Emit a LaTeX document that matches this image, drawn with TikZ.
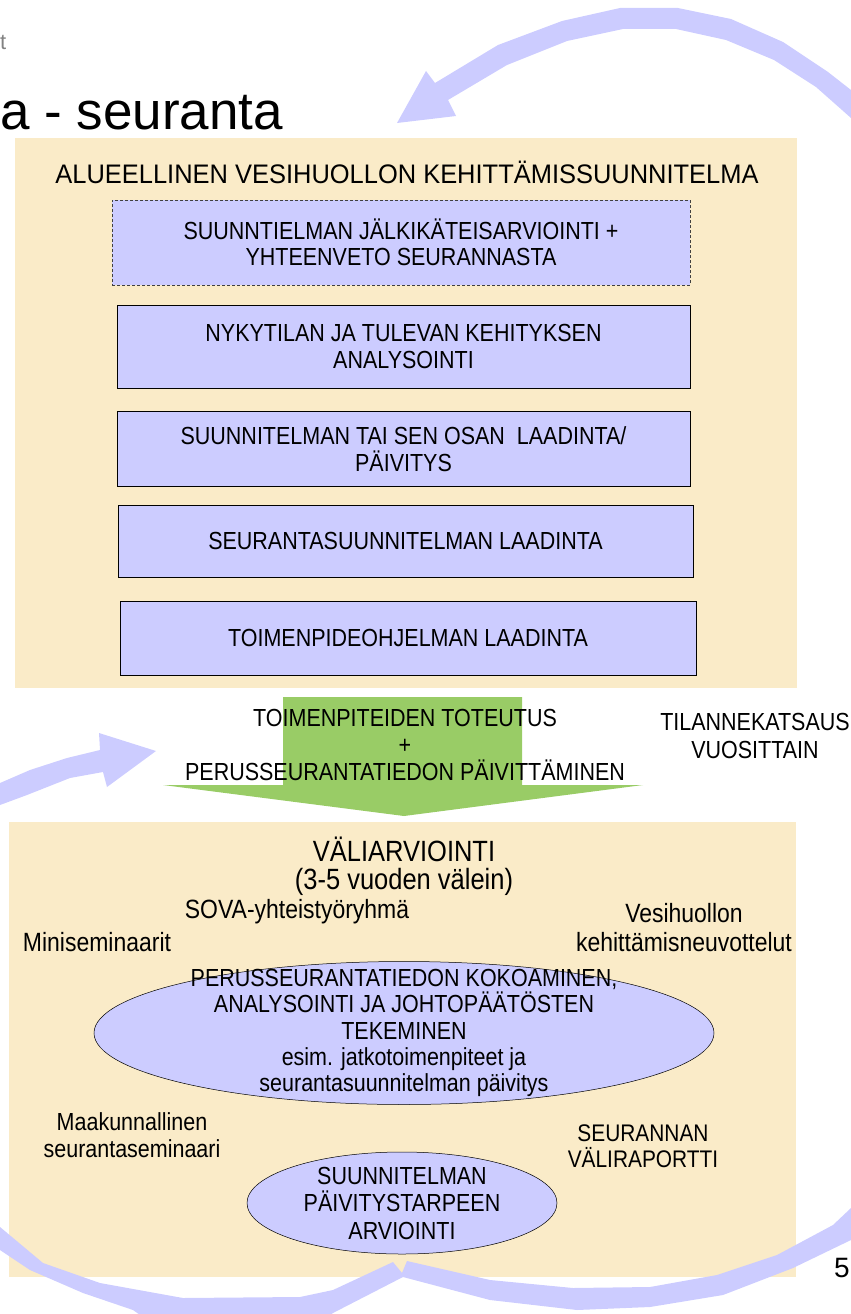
\documentclass[tikz,border=0pt]{standalone}
\usepackage{fontspec}
\setmainfont{Liberation Sans}
\newfontfamily\nf{Liberation Sans}[FakeStretch=0.87]
\newfontfamily\hf{Liberation Sans}[FakeStretch=0.95]
\usetikzlibrary{shapes.geometric}
\definecolor{beige}{RGB}{250,235,200}
\definecolor{lav}{RGB}{204,204,255}
\definecolor{grn}{RGB}{153,204,102}
\definecolor{grayt}{RGB}{130,130,130}
\newcommand\myfs[2]{\fontsize{#1}{#2}\selectfont}
\begin{document}
\begin{tikzpicture}[x=1pt,y=-1pt,
  panel/.style={fill=beige},
  boxn/.style={draw=black, line width=0.5pt, fill=lav, inner sep=0pt, align=center, font={\nf\myfs{24.7}{26.5}}},
  txt/.style={align=center, inner sep=0pt, font={\nf\myfs{24.7}{26.5}}},
  lbl/.style={align=center, inner sep=0pt, font={\nf\myfs{26.4}{29}}},
  ell/.style={ellipse, draw=black, line width=0.5pt, fill=lav, inner sep=0pt},
  band/.style={fill=lav}]
\useasboundingbox (0,0) rectangle (851,1314);
\clip (0,0) rectangle (851,1314);

% header texts
\node[anchor=base west, inner sep=0pt, text=grayt, font={\myfs{22}{26}}] (hdr) at (0,49) {t};
\node[anchor=base west, inner sep=0pt, font={\myfs{53}{60}}] (title) at (0,129) {a - seuranta};

% top curved arrow
\fill[band] (397,123) -- (426,71) -- (435,83) -- (498,45) -- (562,21) -- (620,8) -- (678,8) -- (731,19) -- (783,42) -- (828,72) -- (851,90) -- (870,105) -- (870,135) -- (851,118) -- (816,87) -- (774,60) -- (726,40) -- (676,29) -- (623,29) -- (567,41) -- (507,65) -- (448,100) -- (456,116) -- cycle;

% top panel
\fill[panel] (15,138) rectangle (797,688);
\node[txt, font={\hf\myfs{26.8}{30}}] (head) at (407,172) {ALUEELLINEN VESIHUOLLON KEHITTÄMISSUUNNITELMA};

\node[boxn, draw=black!75, dash pattern=on 3pt off 2pt, minimum width=578, minimum height=85] (b1) at (401,242.5) {SUUNNTIELMAN JÄLKIKÄTEISARVIOINTI +\\YHTEENVETO SEURANNASTA};
\node[boxn, minimum width=573, minimum height=83] (b2) at (403.5,346.5) {NYKYTILAN JA TULEVAN KEHITYKSEN\\ANALYSOINTI};
\node[boxn, minimum width=573, minimum height=75] (b3) at (403.5,449) {SUUNNITELMAN TAI SEN OSAN~ LAADINTA/\\PÄIVITYS};
\node[boxn, minimum width=575, minimum height=72] (b4) at (405.5,541) {SEURANTASUUNNITELMAN LAADINTA};
\node[boxn, minimum width=576, minimum height=74] (b5) at (408,638) {TOIMENPIDEOHJELMAN LAADINTA};

% green arrow
\fill[grn] (283,697) -- (522,697) -- (522,785) -- (643,785) -- (404,816) -- (163,785) -- (283,785) -- cycle;
\node[txt, font={\nf\myfs{24.7}{27}}] (impl) at (405,745) {TOIMENPITEIDEN TOTEUTUS\\+\\PERUSSEURANTATIEDON PÄIVITTÄMINEN};
\node[txt, font={\nf\myfs{24.7}{28}}] (yearly) at (755,736) {TILANNEKATSAUS\\VUOSITTAIN};

% left arrow
\fill[band] (156,751) -- (99,733) -- (100,750) -- (67,758) -- (30,770) -- (0,783) -- (-10,788) -- (-10,810) -- (0,805) -- (27,795) -- (70,778) -- (103,772) -- (107,787) -- cycle;

% bottom panel
\fill[panel] (9,822) rectangle (796,1277);
\node[txt, font={\nf\myfs{29.3}{28}}] (mid) at (404,866) {VÄLIARVIOINTI\\(3-5 vuoden välein)};
\node[lbl] (sova) at (297,912) {SOVA-yhteistyöryhmä};
\node[lbl] (vesi) at (684,928) {Vesihuollon\\kehittämisneuvottelut};
\node[lbl] (mini) at (97,942) {Miniseminaarit};

\node[ell, minimum width=620, minimum height=143] (e1) at (404,1033) {};
\node[txt, font={\nf\myfs{24.7}{26.2}}] (e1t) at (e1.center) {PERUSSEURANTATIEDON KOKOAMINEN,\\ANALYSOINTI JA JOHTOPÄÄTÖSTEN\\TEKEMINEN\\esim. jatkotoimenpiteet ja\\seurantasuunnitelman päivitys};

\node[txt] (maak) at (132,1135) {Maakunnallinen\\seurantaseminaari};
\node[txt, font={\nf\myfs{24}{25.5}}] (rap) at (643,1146) {SEURANNAN\\VÄLIRAPORTTI};

\node[ell, minimum width=310, minimum height=102] (e2) at (402,1203) {};
\node[txt, font={\nf\myfs{24.7}{27.5}}] (e2t) at (e2.center) {SUUNNITELMAN\\PÄIVITYSTARPEEN\\ARVIOINTI};

% bottom arrows
\fill[band] (-10,1220) -- (0,1227) -- (43,1263) -- (100,1283) -- (183,1298) -- (300,1297) -- (333,1290) -- (393,1262) -- (402,1273) -- (407,1261) -- (490,1280) -- (573,1288) -- (650,1287) -- (717,1275) -- (777,1255) -- (833,1225) -- (851,1208) -- (865,1195) -- (865,1232) -- (851,1240) -- (793,1268) -- (723,1295) -- (650,1307) -- (577,1310) -- (490,1300) -- (403,1277) -- (333,1313) -- (320,1322) -- (150,1322) -- (133,1310) -- (83,1293) -- (30,1270) -- (0,1250) -- (-10,1245) -- cycle;

\node[inner sep=0pt, font={\myfs{28}{32}}] (pg) at (842,1268) {5};
\end{tikzpicture}
\end{document}
